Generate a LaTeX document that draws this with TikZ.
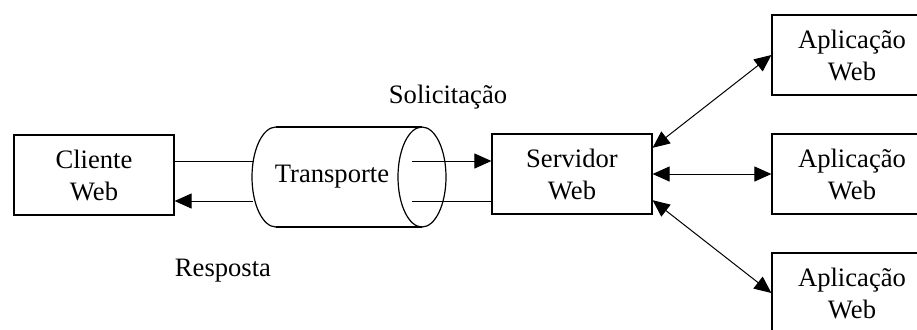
\documentclass[tikz,border=0pt]{standalone}
\usepackage{fontspec}
\setmainfont{Liberation Serif}
\usepackage{tikz}
\usetikzlibrary{arrows.meta, positioning}

\begin{document}
\begin{tikzpicture}[
    x=0.5pt, y=-0.5pt,
    font=\fontsize{13.3}{16}\selectfont,
    box/.style={rectangle, draw, line width=0.6pt, minimum width=80pt, minimum height=40pt, align=center, inner sep=0pt},
    pipe/.style={line width=0.6pt},
    arrow/.style={-{Triangle[length=8.5pt,width=7.5pt]}, line width=0.5pt},
    dblarrow/.style={{Triangle[length=8.5pt,width=7.5pt]}-{Triangle[length=8.5pt,width=7.5pt]}, line width=0.5pt}
]
    \clip (0,0) rectangle (917,329);

    % Client and server
    \node[box] (client) at (94,175) {Cliente\\Web};
    \node[box] (server) at (572,174) {Servidor\\Web};

    % Transport pipe
    \node (transport) at (332,177) {Transporte};
    \draw[pipe] (276,127) -- (422,127);
    \draw[pipe] (276,227) -- (422,227);
    \draw[pipe] (422,177) ellipse [x radius=12pt, y radius=25pt];
    \draw[pipe] (276,127) arc[start angle=90, end angle=270, x radius=12pt, y radius=25pt];

    % Web applications
    \node[box] (app1) at (852,55) {Aplica\c{c}\~ao\\Web};
    \node[box] (app2) at (852,174) {Aplica\c{c}\~ao\\Web};
    \node[box] (app3) at (852,293) {Aplica\c{c}\~ao\\Web};

    % Request / response labels
    \node (req) at (448,97) {Solicita\c{c}\~ao};
    \node (resp) at (223,271) {Resposta};

    % Request path
    \coordinate (reqin) at (253,161);
    \coordinate (reqout) at (412,161);
    \draw[line width=0.5pt] (client.east |- reqin) -- (reqin);
    \draw[arrow] (reqout) -- (server.west |- reqout);

    % Response path
    \coordinate (respin) at (412,201);
    \coordinate (respout) at (253,201);
    \draw[line width=0.5pt] (server.west |- respin) -- (respin);
    \draw[arrow] (respout) -- (client.east |- respout);

    % Server to applications
    \draw[dblarrow] (server.18) -- (app1.west);
    \draw[dblarrow] (server.east) -- (app2.west);
    \draw[dblarrow] (server.-18) -- (app3.west);
\end{tikzpicture}
\end{document}
